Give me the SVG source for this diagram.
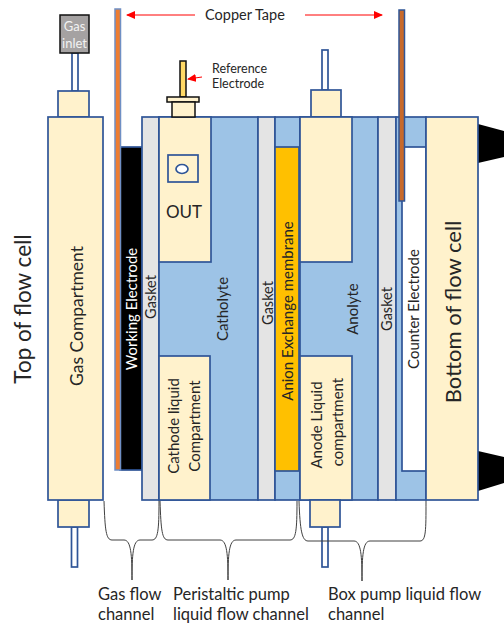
<svg xmlns="http://www.w3.org/2000/svg" width="504" height="623" viewBox="0 0 504 623">
<style>
text{font-family:"Lato","Open Sans","Liberation Sans",sans-serif;fill:#262626}
.b{stroke:#2f5597;stroke-width:1.700}
.c{fill:#fff2cc}.w{fill:#fff}.l{fill:#9dc3e6}.g{fill:#e4e4e4}.k{fill:#000}
.t{font-size:16.500px}.m{font-size:15px;text-anchor:middle}
.br{fill:none;stroke:#404040;stroke-width:1}
.ar{stroke:#ff0000;stroke-width:1;fill:none}
</style>
<defs><marker id="ah" markerWidth="9" markerHeight="8" refX="8" refY="4" orient="auto" markerUnits="userSpaceOnUse"><path d="M0 0L9 4L0 8z" fill="#ff0000"/></marker></defs>
<g id="bottom-blacks"><path class="k" d="M478 124L504 131V157L478 163z"/><path class="k" d="M478 451L504 457V483L478 491z"/></g>
<g id="gas-inlet"><rect x="72" y="53" width="6" height="38" class="b w"/><rect x="60" y="15" width="29" height="38" fill="#a5a2a2" stroke="#111" stroke-width="1.500"/><text x="74.500" y="31" font-size="13" text-anchor="middle" style="fill:#f2f2f2">Gas</text><text x="74.500" y="48" font-size="13" text-anchor="middle" style="fill:#f2f2f2">inlet</text></g>
<g id="gas-compartment"><rect x="58" y="91" width="31" height="26" class="b c"/><rect x="71.500" y="527" width="6" height="40" class="b w"/><rect x="58" y="500" width="31" height="27" class="b c"/><rect x="48" y="117" width="55" height="383" class="b c"/><text class="m" style="font-size:17.500px" transform="translate(83 316) rotate(-90)">Gas Compartment</text></g>
<g id="working-electrode"><rect x="120" y="147" width="22" height="323" class="k b"/><text class="m" style="fill:#fff" transform="translate(137 309) rotate(-90)">Working Electrode</text></g>
<g id="copper-left"><rect x="115" y="9" width="5.500" height="461" fill="#ed7d31" stroke="#6f8fc4" stroke-width="1.500"/></g>
<g id="gasket-1"><rect x="142" y="117" width="17" height="383" class="b g"/><text class="m" style="font-size:14.500px" transform="translate(156 297) rotate(-90)">Gasket</text></g>
<g id="catholyte"><rect x="159" y="117" width="99" height="383" class="b l"/><text class="m" transform="translate(228 309) rotate(-90)">Catholyte</text></g>
<g id="out-compartment"><rect x="159" y="117" width="52" height="145" class="b c"/><rect x="168" y="155" width="30" height="27" class="b" fill="none"/><ellipse cx="182" cy="169" rx="6" ry="4.500" class="b w"/><text x="166" y="218" font-size="17">OUT</text></g>
<g id="reference-electrode"><rect x="180" y="61" width="6" height="36" fill="#ffd966" stroke="#111" stroke-width="1.500"/><rect x="167" y="97" width="32" height="5" class="c" stroke="#111" stroke-width="1.500"/><rect x="172" y="102" width="23" height="15" class="c" stroke="#111" stroke-width="1.500"/><text x="212" y="73" font-size="12.500">Reference</text><text x="212" y="88" font-size="12.500">Electrode</text><path class="ar" d="M202 77L188 79" marker-end="url(#ah)"/></g>
<g id="cathode-compartment"><rect x="159" y="356" width="51" height="144" class="b c"/><text class="m" transform="translate(179 426) rotate(-90)">Cathode liquid</text><text class="m" transform="translate(200 426) rotate(-90)">Compartment</text></g>
<g id="gasket-2"><rect x="258" y="117" width="17" height="383" class="b g"/><text class="m" style="font-size:14.500px" transform="translate(272.500 303) rotate(-90)">Gasket</text></g>
<g id="membrane"><rect x="275" y="117" width="25" height="383" class="b l"/><rect x="275" y="147" width="24" height="324" fill="#ffc000" class="b"/><text class="m" transform="translate(293 311) rotate(-90)">Anion Exchange membrane</text></g>
<g id="anolyte"><rect x="322" y="50" width="6" height="40" class="b w"/><rect x="311" y="90" width="30" height="27" class="b c"/><rect x="300" y="117" width="78" height="383" class="b l"/><rect x="300" y="117" width="52" height="145" class="b c"/><text class="m" transform="translate(358 309) rotate(-90)">Anolyte</text></g>
<g id="anode-compartment"><rect x="300" y="356" width="52" height="144" class="b c"/><text class="m" transform="translate(322 425) rotate(-90)">Anode Liquid</text><text class="m" transform="translate(343 422) rotate(-90)">compartment</text><rect x="322" y="527" width="6" height="40" class="b w"/><rect x="310" y="500" width="30" height="27" class="b c"/></g>
<g id="gasket-3"><rect x="378" y="117" width="18" height="383" class="b g"/><text class="m" style="font-size:14.500px" transform="translate(392 309) rotate(-90)">Gasket</text></g>
<g id="counter-electrode"><rect x="396" y="117" width="30" height="383" class="b l"/><rect x="402" y="147" width="24" height="324" class="b w"/><text class="m" transform="translate(419 309) rotate(-90)">Counter Electrode</text></g>
<g id="copper-right"><rect x="399" y="10" width="5.500" height="191" fill="#c8692a" stroke="#2f5597" stroke-width="1.500"/></g>
<g id="bottom-cell"><rect x="426" y="117" width="52" height="383" class="b c"/><text font-size="22" text-anchor="middle" transform="translate(461 312) rotate(-90)">Bottom of flow cell</text></g>
<g id="connectors">
<path class="ar" d="M195 15H127" marker-end="url(#ah)"/><path class="ar" d="M305 15H382" marker-end="url(#ah)"/>
<path class="br" d="M104 501C105 530 106 540 112 540H124C131 540 132 555 132 580C132 555 133 540 140 540H152C158 540 159 530 159 501"/>
<path class="br" d="M160 501C161 530 162 540 168 540H220C227 540 228 555 228 580C228 555 229 540 236 540H290C296 540 297 530 297 501"/>
<path class="br" d="M299 501C300 530 302 541 308 541H354C361 541 362 556 362 581C362 556 363 541 370 541H420C426 541 426 530 426 501"/>
</g>
<g id="labels">
<text x="205" y="20" font-size="14.500">Copper Tape</text>
<text font-size="22.500" text-anchor="middle" transform="translate(31 309) rotate(-90)">Top of flow cell</text>
<text class="t" x="98" y="600">Gas flow</text><text class="t" x="98" y="620">channel</text>
<text class="t" x="173" y="600">Peristaltic pump</text><text class="t" x="173" y="620">liquid flow channel</text>
<text class="t" x="328" y="600">Box pump liquid flow</text><text class="t" x="328" y="620">channel</text>
</g>
</svg>
